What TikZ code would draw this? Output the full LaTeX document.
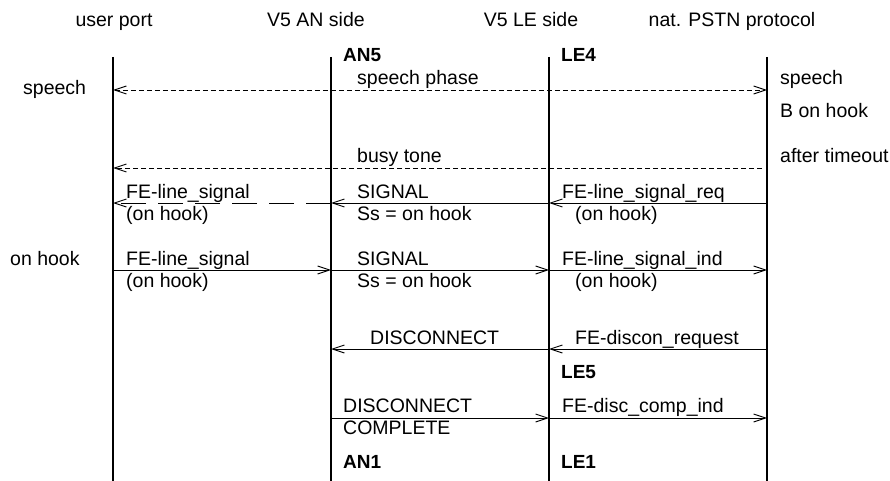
\documentclass[tikz,border=0pt]{standalone}
\usepackage{fontspec}
\setmainfont{Liberation Sans}
\usetikzlibrary{arrows.meta}

\begin{document}
\begin{tikzpicture}[x=1pt, y=-1pt, font=\fontsize{19.5}{22}\selectfont,
	>={Straight Barb[length=12pt, width=8pt]},
	lbl/.style={anchor=base west, inner sep=0pt},
	hdr/.style={anchor=base, inner sep=0pt},
	state/.style={lbl, font=\fontsize{19}{22}\selectfont\bfseries},
	life/.style={line width=1.4pt},
	msg/.style={line width=0.9pt, ->},
	tone/.style={msg, dash pattern=on 5pt off 3pt},
	longdash/.style={msg, dash pattern=on 25pt off 12pt}]
	\useasboundingbox (0,0) rectangle (890,481);

	% lifelines
	\foreach \x/\n in {113/up, 331/an, 549/le, 767/pstn} {
		\coordinate (\n-top) at (\x,57);
		\coordinate (\n-bot) at (\x,481);
		\draw [life] (\n-top) -- (\n-bot);
	}
	% message levels on each lifeline
	\foreach \y/\m in {90/sp, 168/bt, 203/rel, 270/ind, 349/dis, 418/dc} {
		\coordinate (up-\m) at (113,\y);
		\coordinate (an-\m) at (331,\y);
		\coordinate (le-\m) at (549,\y);
		\coordinate (pstn-\m) at (767,\y);
	}
	\coordinate (bt-end) at (762,168);

	% headers
	\node [hdr] (hup) at (114,27) {user port};
	\node [hdr] (han) at (316,27) {V5 AN side};
	\node [hdr] (hle) at (531,27) {V5 LE side};
	\node [hdr] (hpstn) at (732,27) {nat. PSTN protocol};

	% states
	\node [state] (an5) at (343,62) {AN5};
	\node [state] (le4) at (561,62) {LE4};
	\node [state] (le5) at (561,378) {LE5};
	\node [state] (an1) at (343,468) {AN1};
	\node [state] (le1) at (561,468) {LE1};

	% speech phase / busy tone
	\draw [tone, <->] (up-sp) -- (pstn-sp);
	\node [lbl] (tsp) at (357,85) {speech phase};
	\node [lbl] (usp) at (23,95) {speech};
	\node [lbl] (psp) at (780,85) {speech};
	\node [lbl] (pbh) at (780,118) {B on hook};
	\draw [tone] (bt-end) -- (up-bt);
	\node [lbl] (tbt) at (357,163) {busy tone};
	\node [lbl] (pto) at (780,163) {after timeout};

	% line signal from the far end
	\draw [msg] (pstn-rel) -- (le-rel);
	\draw [msg] (le-rel) -- (an-rel);
	\draw [longdash] (an-rel) -- (up-rel);
	\node [lbl] (r1a) at (126,198) {FE-line\_signal};
	\node [lbl] (r1b) at (126,220) {(on hook)};
	\node [lbl] (r2a) at (357,198) {SIGNAL};
	\node [lbl] (r2b) at (357,220) {Ss = on hook};
	\node [lbl] (r3a) at (562,198) {FE-line\_signal\_req};
	\node [lbl] (r3b) at (575,220) {(on hook)};

	% line signal from the user port
	\node [lbl] (uoh) at (10,265) {on hook};
	\draw [msg] (up-ind) -- (an-ind);
	\draw [msg] (an-ind) -- (le-ind);
	\draw [msg] (le-ind) -- (pstn-ind);
	\node [lbl] (i1a) at (126,265) {FE-line\_signal};
	\node [lbl] (i1b) at (126,287) {(on hook)};
	\node [lbl] (i2a) at (357,265) {SIGNAL};
	\node [lbl] (i2b) at (357,287) {Ss = on hook};
	\node [lbl] (i3a) at (562,265) {FE-line\_signal\_ind};
	\node [lbl] (i3b) at (575,287) {(on hook)};

	% disconnect
	\draw [msg] (pstn-dis) -- (le-dis);
	\draw [msg] (le-dis) -- (an-dis);
	\node [lbl] (d1) at (370,344) {DISCONNECT};
	\node [lbl] (d2) at (575,344) {FE-discon\_request};

	% disconnect complete
	\draw [msg] (an-dc) -- (le-dc);
	\draw [msg] (le-dc) -- (pstn-dc);
	\node [lbl] (c1a) at (343,412) {DISCONNECT};
	\node [lbl] (c1b) at (343,434) {COMPLETE};
	\node [lbl] (c2) at (562,412) {FE-disc\_comp\_ind};
\end{tikzpicture}
\end{document}
